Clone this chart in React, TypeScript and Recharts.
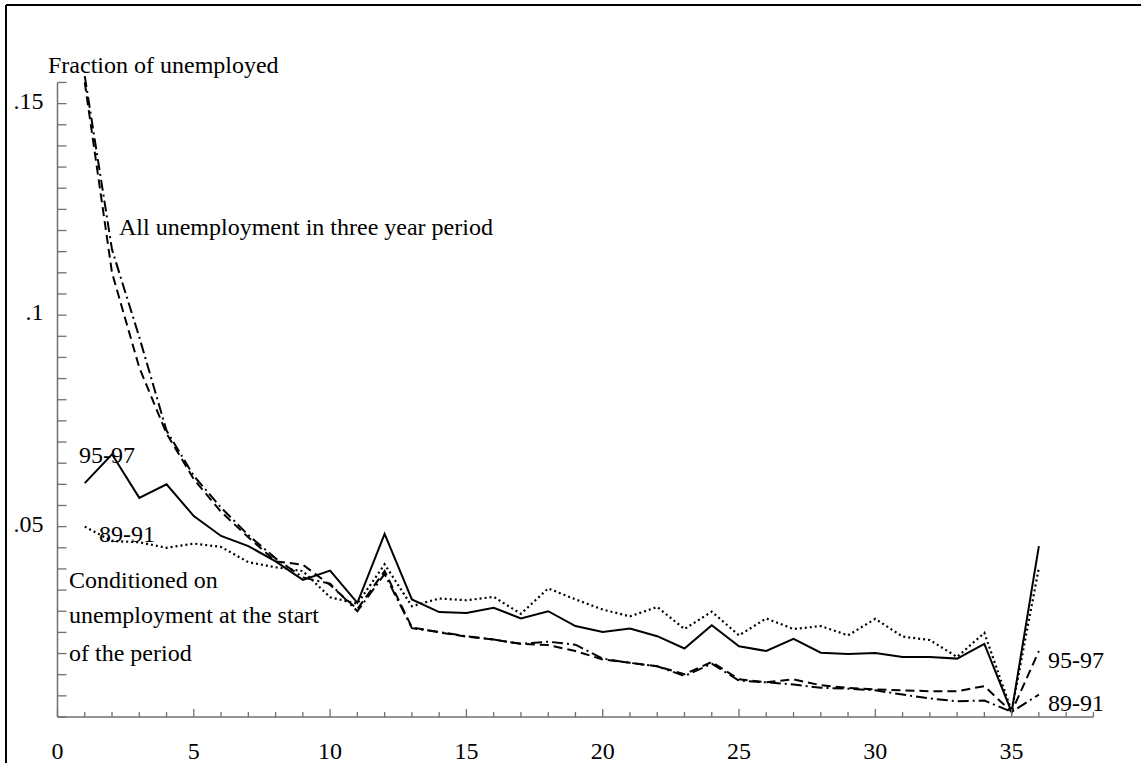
import { LineChart, Line, XAxis, YAxis, ReferenceLine } from 'recharts';

// duration (t) and fraction of unemployed
const T = [1, 2, 3, 4, 5, 6, 7, 8, 9, 10, 11, 12, 13, 14, 15, 16, 17, 18, 19, 20, 21, 22, 23, 24, 25, 26, 27, 28, 29, 30, 31, 32, 33, 34, 35, 36];

// all unemployment in three year period
const ALL_95_97 = [0.155, 0.110, 0.0876, 0.0720, 0.0612, 0.0535, 0.0475, 0.0418, 0.0410, 0.0362, 0.0305, 0.0395, 0.0262, 0.0250, 0.0240, 0.0233, 0.0223, 0.0220, 0.0206, 0.0186, 0.0178, 0.0170, 0.0151, 0.0180, 0.0139, 0.0132, 0.0139, 0.0125, 0.0119, 0.0115, 0.0113, 0.0111, 0.0111, 0.0123, 0.0062, 0.0206];
const ALL_89_91 = [0.1565, 0.1155, 0.0948, 0.0727, 0.0620, 0.0545, 0.0480, 0.0425, 0.0380, 0.0365, 0.0300, 0.0388, 0.0260, 0.0251, 0.0241, 0.0233, 0.0223, 0.0228, 0.0221, 0.0188, 0.0178, 0.0170, 0.0147, 0.0176, 0.0136, 0.0132, 0.0127, 0.0119, 0.0117, 0.0113, 0.0103, 0.0094, 0.0087, 0.0089, 0.0062, 0.0103];

// conditioned on unemployment at the start of the period
const COND_95_97 = [0.0603, 0.0671, 0.0568, 0.0600, 0.0525, 0.0478, 0.0454, 0.0418, 0.0374, 0.0396, 0.0320, 0.0483, 0.0328, 0.0298, 0.0296, 0.0308, 0.0283, 0.0300, 0.0265, 0.0251, 0.0259, 0.0241, 0.0212, 0.0267, 0.0217, 0.0206, 0.0235, 0.0202, 0.0199, 0.0201, 0.0192, 0.0192, 0.0188, 0.0223, 0.0062, 0.0454];
const COND_89_91 = [0.0500, 0.0466, 0.0463, 0.0450, 0.0460, 0.0452, 0.0416, 0.0404, 0.0395, 0.0333, 0.0318, 0.0411, 0.0312, 0.0330, 0.0326, 0.0334, 0.0294, 0.0354, 0.0328, 0.0304, 0.0288, 0.0310, 0.0258, 0.0299, 0.0243, 0.0283, 0.0258, 0.0265, 0.0243, 0.0282, 0.0240, 0.0232, 0.0192, 0.0249, 0.0064, 0.0403];

const X_TICKS = [0, 1, 2, 3, 4, 5, 6, 7, 8, 9, 10, 11, 12, 13, 14, 15, 16, 17, 18, 19, 20, 21, 22, 23, 24, 25, 26, 27, 28, 29, 30, 31, 32, 33, 34, 35, 36, 37, 38];
const X_LABELS = [0, 5, 10, 15, 20, 25, 30, 35];
const Y_TICKS = [0.005, 0.01, 0.015, 0.02, 0.025, 0.03, 0.035, 0.04, 0.045, 0.05, 0.055, 0.06, 0.065, 0.07, 0.075, 0.08, 0.085, 0.09, 0.095, 0.1, 0.105, 0.11, 0.115, 0.12, 0.125, 0.13, 0.135, 0.14, 0.145, 0.15, 0.155];
const Y_LABELS: [number, string][] = [[0.05, '.05'], [0.1, '.1'], [0.15, '.15']];

const data = T.map((t, i) => ({
  t,
  all9597: ALL_95_97[i],
  all8991: ALL_89_91[i],
  cond9597: COND_95_97[i],
  cond8991: COND_89_91[i],
}));

const W = 1141;
const H = 763;
const FONT = 'Liberation Serif, Times New Roman, serif';
const FS = 24;
const AXIS = '#707070';

function XTick({ x, y, payload }: any) {
  const v = payload.value;
  const major = v % 5 === 0;
  return (
    <g>
      <line x1={x} y1={y} x2={x} y2={y - (major ? 8 : 5)} stroke={AXIS} strokeWidth={1.3} />
      {X_LABELS.includes(v) && (
        <text x={x} y={y + 42} textAnchor="middle" fontFamily={FONT} fontSize={FS} fill="#000">
          {v}
        </text>
      )}
    </g>
  );
}

function YTick({ x, y, payload }: any) {
  const lab = Y_LABELS.find(([v]) => Math.abs(v - payload.value) < 1e-6);
  return (
    <g>
      <line x1={x} y1={y} x2={x + 9} y2={y} stroke={AXIS} strokeWidth={1.3} />
      {lab && (
        <text x={x - 14} y={y + 5} textAnchor="end" fontFamily={FONT} fontSize={FS} fill="#000">
          {lab[1]}
        </text>
      )}
    </g>
  );
}

const txt = { fontFamily: FONT, fontSize: FS, fill: '#000' };

export default function App() {
  return (
    <div style={{ position: 'absolute', left: 0, top: 0, width: W, height: H, overflow: 'hidden', background: '#fff' }}>
      <LineChart width={W} height={H} data={data} margin={{ top: 75.7, right: 47.6, left: 0, bottom: 0 }}>
        <XAxis
          dataKey="t"
          type="number"
          domain={[0, 38]}
          ticks={X_TICKS}
          interval={0}
          height={46}
          tickSize={0}
          tickMargin={0}
          tickLine={false}
          axisLine={{ stroke: AXIS, strokeWidth: 1.5 }}
          tick={<XTick />}
        />
        <YAxis
          type="number"
          domain={[0.005, 0.1566]}
          allowDataOverflow
          ticks={Y_TICKS}
          interval={0}
          width={57.5}
          tickSize={0}
          tickMargin={0}
          tickLine={false}
          axisLine={false}
          tick={<YTick />}
        />
        <ReferenceLine
          segment={[{ x: 0, y: 0.005 }, { x: 0, y: 0.155 }]}
          stroke={AXIS}
          strokeWidth={1.5}
        />
        <Line dataKey="all9597" type="linear" stroke="#000" strokeWidth={2} strokeDasharray="9 5" dot={false} isAnimationActive={false} />
        <Line dataKey="all8991" type="linear" stroke="#000" strokeWidth={2} strokeDasharray="11 4 2 4" dot={false} isAnimationActive={false} />
        <Line dataKey="cond9597" type="linear" stroke="#000" strokeWidth={2} dot={false} isAnimationActive={false} />
        <Line dataKey="cond8991" type="linear" stroke="#000" strokeWidth={2.2} strokeDasharray="2 3" dot={false} isAnimationActive={false} />
      </LineChart>
      <svg width={W} height={H} style={{ position: 'absolute', left: 0, top: 0, pointerEvents: 'none' }}>
        <line x1={6} y1={5} x2={W} y2={5} stroke="#000" strokeWidth={2} />
        <line x1={6} y1={5} x2={6} y2={H} stroke="#000" strokeWidth={2} />
        <text x={48} y={73} {...txt}>Fraction of unemployed</text>
        <text x={119} y={235} {...txt}>All unemployment in three year period</text>
        <text x={79} y={463} {...txt}>95-97</text>
        <text x={99} y={542} {...txt}>89-91</text>
        <text x={69} y={588} {...txt}>Conditioned on</text>
        <text x={69} y={623} {...txt}>unemployment at the start</text>
        <text x={69} y={661} {...txt}>of the period</text>
        <text x={1048} y={668} {...txt}>95-97</text>
        <text x={1048} y={711} {...txt}>89-91</text>
      </svg>
    </div>
  );
}
